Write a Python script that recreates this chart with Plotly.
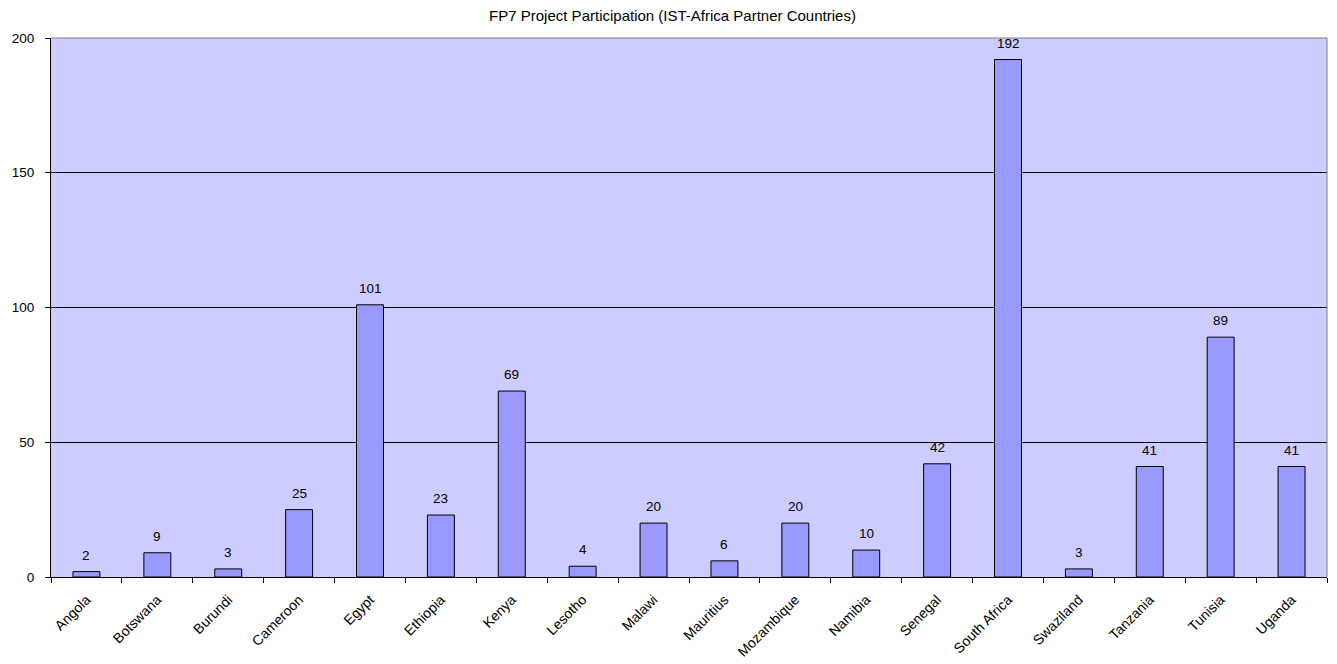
import plotly.graph_objects as go

countries = ["Angola", "Botswana", "Burundi", "Cameroon", "Egypt", "Ethiopia", "Kenya",
             "Lesotho", "Malawi", "Mauritius", "Mozambique", "Namibia", "Senegal",
             "South Africa", "Swaziland", "Tanzania", "Tunisia", "Uganda"]
participation = [2, 9, 3, 25, 101, 23, 69, 4, 20, 6, 20, 10, 42, 192, 3, 41, 89, 41]
y_ticks = [0, 50, 100, 150, 200]

FONT = "Liberation Sans, Arial, sans-serif"

fig = go.Figure(go.Bar(
    x=countries, y=participation,
    marker=dict(color="#9999FF", line=dict(color="#000000", width=1)),
    cliponaxis=False,
))

for c, v in zip(countries, participation):
    fig.add_annotation(x=c, y=v, text=str(v), showarrow=False, yanchor="bottom",
                       yshift=7, font=dict(family=FONT, size=13.5, color="#000000"))

# page body has an 8px default margin; figure sized to fill the 1337x664 window
fig.update_layout(
    width=1329, height=656,
    margin=dict(l=43, r=10, t=30, b=87, autoexpand=False),
    paper_bgcolor="white", plot_bgcolor="#CCCCFF",
    bargap=0.62,
    showlegend=False,
    title=dict(text="FP7 Project Participation (IST-Africa Partner Countries)",
               x=0.5, xanchor="center", y=0.988, yanchor="middle",
               font=dict(family=FONT, size=15, color="#000000")),
    font=dict(family=FONT, size=12, color="#000000"),
)
fig.update_xaxes(
    automargin=False,
    tickangle=-45, tickson="boundaries", ticks="outside", ticklen=5, tickcolor="#000000",
    ticklabelstandoff=8,
    showline=True, linecolor="#000000", linewidth=1, showgrid=False,
    tickfont=dict(family=FONT, size=14, color="#000000"),
)
fig.update_yaxes(
    automargin=False,
    range=[0, 200], tickvals=y_ticks, ticks="outside", ticklen=5, tickcolor="#000000",
    ticklabelstandoff=8,
    showline=True, linecolor="#000000", linewidth=1,
    showgrid=True, gridcolor="#000000", gridwidth=1, zeroline=False,
    tickfont=dict(family=FONT, size=13.5, color="#000000"),
)
fig.add_shape(type="line", xref="paper", yref="paper", x0=0, x1=1, y0=1, y1=1,
              line=dict(color="#808080", width=1))
fig.add_shape(type="line", xref="paper", yref="paper", x0=1, x1=1, y0=0, y1=1,
              line=dict(color="#808080", width=1))

fig.write_html("out.html")
